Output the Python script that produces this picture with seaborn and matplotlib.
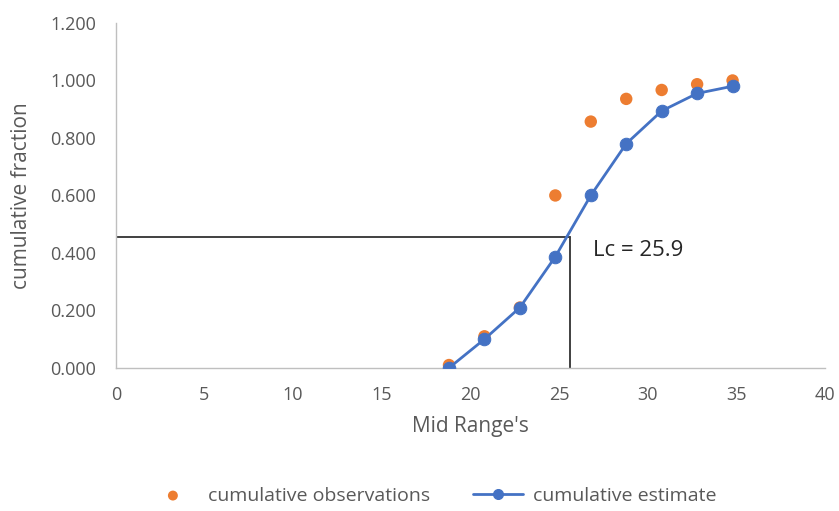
import numpy as np
import pandas as pd
import matplotlib
matplotlib.use("Agg")
import matplotlib.pyplot as plt
import seaborn as sns

# data
mid_range = [18.8, 20.8, 22.8, 24.8, 26.8, 28.8, 30.8, 32.8, 34.8]
cum_obs = [0.010, 0.110, 0.210, 0.600, 0.857, 0.936, 0.967, 0.987, 1.000]
cum_est = [0.000, 0.100, 0.210, 0.387, 0.600, 0.780, 0.894, 0.955, 0.980]
lc_x = 25.6
lc_y = 0.455
lc_label = "Lc = 25.9"
y_ticks = [0.0, 0.2, 0.4, 0.6, 0.8, 1.0, 1.2]
x_ticks = [0, 5, 10, 15, 20, 25, 30, 35, 40]

df = pd.DataFrame({"mid": mid_range, "obs": cum_obs, "est": cum_est})

sns.set_style("white")
plt.rcParams["font.family"] = ["Open Sans", "DejaVu Sans"]

orange = "#ED7D31"
blue = "#4472C4"
grey = "#595959"

fig = plt.figure(figsize=(8.39, 5.11), dpi=100)
ax = fig.add_axes([0.138, 0.280, 0.845, 0.675])

# Lc guide lines
ax.plot([0, lc_x], [lc_y, lc_y], color="#404040", lw=1.4, zorder=1)
ax.plot([lc_x, lc_x], [0, lc_y], color="#404040", lw=1.4, zorder=1)

sns.scatterplot(data=df, x="mid", y="obs", color=orange, s=80, edgecolor="none",
                ax=ax, label="cumulative observations", zorder=2)
sns.lineplot(data=df, x="mid", y="est", color=blue, lw=2, marker="o", markersize=9,
             markeredgecolor=blue, ax=ax, label="cumulative estimate", zorder=3)

ax.text(26.9, 0.41, lc_label, fontsize=16, color="#262626", va="center")

ax.set_xlim(0, 40)
ax.set_ylim(0, 1.2)
ax.set_xticks(x_ticks)
ax.set_yticks(y_ticks)
ax.set_yticklabels([f"{v:.3f}" for v in y_ticks])
ax.tick_params(axis="both", colors="#BFBFBF", labelcolor=grey, labelsize=13,
               length=5, width=0.8, direction="out")
ax.tick_params(axis="y", pad=9)
ax.tick_params(axis="x", pad=8)
for s in ["top", "right"]:
    ax.spines[s].set_visible(False)
for s in ["left", "bottom"]:
    ax.spines[s].set_color("#BFBFBF")
    ax.spines[s].set_linewidth(1)

ax.set_xlabel("Mid Range's", fontsize=15, color=grey, labelpad=9)
ax.set_ylabel("cumulative fraction", fontsize=15, color=grey, labelpad=13)

handles, labels = ax.get_legend_handles_labels()
ax.get_legend().remove()
fig.legend(handles, labels, loc="center", bbox_to_anchor=(0.515, 0.03), ncol=2,
           frameon=False, fontsize=14, labelcolor=grey, handlelength=2.6,
           columnspacing=2.2, handletextpad=0.5, markerscale=0.8)

fig.savefig("out.png", dpi=100)
